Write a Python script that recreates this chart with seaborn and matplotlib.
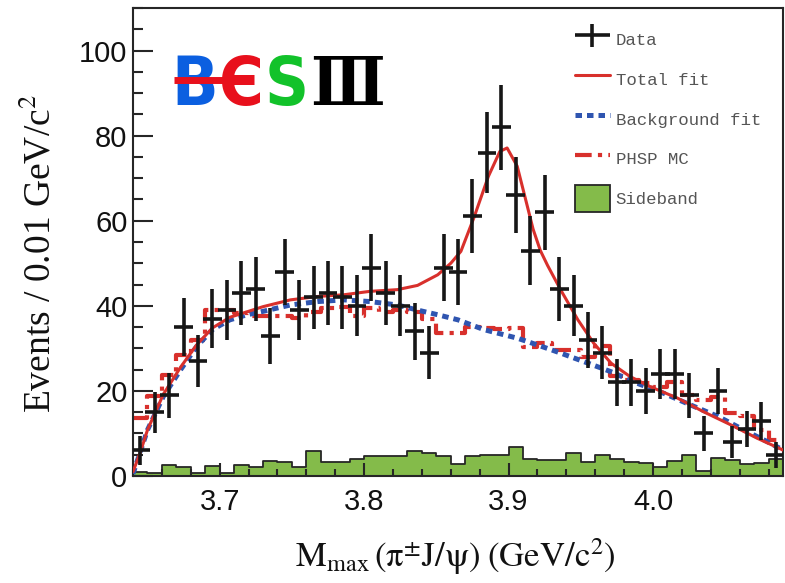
import numpy as np
import pandas as pd
import matplotlib
matplotlib.use("Agg")
import matplotlib.pyplot as plt
import seaborn as sns
from matplotlib.lines import Line2D
from matplotlib.patches import Patch
from matplotlib.ticker import MultipleLocator
from matplotlib.transforms import IdentityTransform
from matplotlib.container import ErrorbarContainer
from matplotlib.legend_handler import HandlerErrorbar
from matplotlib import font_manager as fm

# ---------------- data ----------------
bin_centers = np.round(3.645 + 0.01 * np.arange(45), 3)
data_counts = [6, 15, 19, 35, 27, 37, 39, 43, 44, 33, 48, 39, 42, 43, 42, 40, 49, 43, 40, 34,
               29, 49, 48, 61, 76, 82, 66, 53, 62, 44, 40, 32, 29, 22, 22, 20, 24, 24, 19, 10,
               20, 8, 11, 13, 5]
data_errors = [3.3, 4.8, 5.3, 6.8, 6.1, 7.0, 7.1, 7.5, 7.5, 6.6, 7.8, 7.1, 7.4, 7.5, 7.4, 7.2,
               7.9, 7.5, 7.2, 6.7, 6.3, 7.9, 7.8, 8.7, 9.6, 10.0, 9.0, 8.2, 8.8, 7.5, 7.2, 6.6,
               6.3, 5.6, 5.6, 5.4, 5.8, 5.8, 5.3, 4.1, 5.4, 3.7, 4.2, 4.5, 3.1]
sideband = [1.0, 0.8, 2.5, 2.0, 0.8, 2.4, 0.8, 2.6, 2.0, 3.5, 3.4, 2.0, 5.9, 3.4, 3.4, 3.9,
            4.7, 4.7, 4.7, 5.9, 5.5, 4.7, 2.9, 4.7, 4.9, 4.9, 6.7, 3.9, 3.7, 3.7, 5.3, 3.4,
            4.9, 3.9, 3.4, 3.1, 2.1, 3.5, 4.9, 1.2, 4.3, 3.7, 2.9, 3.1, 3.9]
phsp_mc = [13.6, 18.7, 23.8, 28.5, 32.0, 39.0, 39.0, 38.3, 37.5, 37.5, 37.5, 37.1, 38.5, 39.5,
           39.8, 37.5, 39.5, 38.5, 39.0, 38.5, 37.0, 33.6, 33.6, 35.1, 34.7, 34.5, 34.7, 30.4,
           31.2, 29.6, 29.6, 28.0, 30.5, 23.4, 22.6, 21.8, 21.0, 22.0, 19.1, 17.9, 18.6, 14.8,
           14.0, 10.8, 8.5]

total_x = [3.640, 3.645, 3.650, 3.661, 3.673, 3.684, 3.695, 3.707, 3.719, 3.730, 3.749,
           3.768, 3.786, 3.804, 3.823, 3.837, 3.851, 3.860, 3.867, 3.876, 3.886, 3.894,
           3.899, 3.906, 3.913, 3.917, 3.922, 3.927, 3.936, 3.948, 3.959, 3.971, 3.984,
           3.998, 4.017, 4.035, 4.054, 4.072, 4.090]
total_y = [1.0, 5.5, 10.8, 19.2, 25.6, 30.8, 34.8, 37.3, 38.6, 39.8, 41.4, 42.2, 42.6, 43.4,
           43.8, 44.8, 47.3, 50.0, 52.8, 60.7, 70.4, 76.3, 77.1, 72.8, 63.4, 58.0, 53.0, 49.5,
           43.8, 36.7, 31.2, 26.5, 23.4, 21.0, 18.3, 15.1, 12.0, 8.9, 6.1]

bkg_x = [3.640, 3.650, 3.661, 3.673, 3.684, 3.695, 3.707, 3.719, 3.730, 3.749, 3.768, 3.786,
         3.804, 3.823, 3.837, 3.851, 3.865, 3.883, 3.906, 3.920, 3.936, 3.952, 3.971, 3.989,
         4.007, 4.026, 4.045, 4.063, 4.079, 4.090]
bkg_y = [0.5, 10.8, 18.7, 25.0, 30.4, 34.4, 36.7, 37.9, 38.7, 40.2, 41.0, 41.4, 41.0, 40.2,
         39.0, 37.9, 36.7, 34.4, 32.4, 30.8, 28.9, 26.9, 24.5, 21.8, 19.5, 16.7, 14.0, 10.8,
         8.1, 6.1]

x_ticks = [3.7, 3.8, 3.9, 4.0]
x_tick_labels = ["3.7", "3.8", "3.9", "4.0"]
y_ticks = [0, 20, 40, 60, 80, 100]
legend_labels = ["Data", "Total fit", "Background fit", "PHSP MC", "Sideband"]

# ---------------- style ----------------
RED = "#d8302c"
BLUE = "#2f55b0"
GREEN = "#84bb4a"
DARK = "#262626"

sns.set_theme(style="ticks")
plt.rcParams["font.family"] = ["Liberation Sans", "DejaVu Sans"]
plt.rcParams["mathtext.fontset"] = "stix"

W, H = 785, 583
fig = plt.figure(figsize=(W / 100, H / 100), dpi=100)
ax = fig.add_axes([133 / W, 107 / H, 650 / W, 468 / H])

edges = [round(float(c) - 0.005, 3) for c in bin_centers] + [round(float(bin_centers[-1]) + 0.005, 3)]
df = pd.DataFrame({"x": bin_centers, "sb": sideband, "phsp": phsp_mc})

sns.histplot(data=df, x="x", weights="sb", bins=edges, element="step", fill=True,
             color=GREEN, alpha=1.0, edgecolor=DARK, linewidth=1.3, ax=ax, zorder=1)

sns.histplot(data=df, x="x", weights="phsp", bins=edges, element="step", fill=False,
             color=RED, linewidth=3.0, linestyle=(0, (4, 1.5, 1, 1.5)), ax=ax, zorder=2)

sns.lineplot(x=bkg_x, y=bkg_y, color=BLUE, linewidth=3.6, linestyle=(0, (1.3, 1.0)),
             estimator=None, sort=False, ax=ax, zorder=3)
sns.lineplot(x=total_x, y=total_y, color=RED, linewidth=2.2, estimator=None, sort=False,
             ax=ax, zorder=4)

data_h = ax.errorbar(bin_centers, data_counts, yerr=data_errors, xerr=0.0065, fmt="none",
                     ecolor="#161616", elinewidth=2.6, capsize=0, zorder=5)

ax.set_xlim(3.64, 4.09)
ax.set_ylim(0, 110)
ax.set_xticks(x_ticks)
ax.set_xticklabels(x_tick_labels)
ax.set_yticks(y_ticks)
ax.xaxis.set_minor_locator(MultipleLocator(0.02))
ax.yaxis.set_minor_locator(MultipleLocator(5))
ax.tick_params(which="both", direction="in", top=False, right=False, color=DARK,
               width=1.5, labelsize=21, labelcolor="#111111")
ax.tick_params(axis="x", which="major", length=9.5, pad=9)
ax.tick_params(axis="x", which="minor", length=5)
ax.tick_params(axis="y", which="major", length=14.5, pad=4)
ax.tick_params(axis="y", which="minor", length=7)
ax.set_axisbelow(False)
for sp in ax.spines.values():
    sp.set_linewidth(1.5)
    sp.set_color(DARK)
    sp.set_visible(True)

serif = ["Liberation Serif", "DejaVu Serif"]
ax.set_ylabel("Events / 0.01 GeV/c$^{2}$", fontsize=27, family=serif, color="#111111")
ax.yaxis.set_label_coords(-0.115, 0.476)
ax.set_xlabel(r"$\mathrm{M_{max}\,(π^{±}J/ψ)\;(GeV/c^{2})}$", fontsize=25, color="#111111")
ax.xaxis.set_label_coords(0.496, -0.128)

handles = [data_h,
           Line2D([], [], color=RED, linewidth=2.2),
           Line2D([], [], color=BLUE, linewidth=3.6, linestyle=(0, (1.3, 1.0))),
           Line2D([], [], color=RED, linewidth=3.0, linestyle=(0, (4, 1.5, 1, 1.5))),
           Patch(facecolor=GREEN, edgecolor=DARK, linewidth=1.3)]
leg = ax.legend(handles, legend_labels, loc="upper left", bbox_to_anchor=(0.68, 0.962),
                frameon=False, prop={"family": ["Liberation Mono", "DejaVu Sans Mono"], "size": 12.5},
                handlelength=2.0, handleheight=2.08, handletextpad=0.35, labelspacing=0.69,
                borderpad=0, borderaxespad=0,
                handler_map={ErrorbarContainer: HandlerErrorbar(xerr_size=1.0, yerr_size=0.65)})
for t in leg.get_texts():
    t.set_color("#555555")

# ---------------- BESIII logo ----------------
def available(name):
    try:
        fm.findfont(fm.FontProperties(family=name), fallback_to_default=False)
        return True
    except Exception:
        return False

cands = ["DejaVu Sans Condensed", "Liberation Sans Narrow", "Noto Sans ExtraCondensed",
         "Noto Sans Condensed", "DejaVu Sans"]
logo_font = next(c for c in cands if available(c))
logo_letters = ["B", "Є", "S", "Ⅲ"]
logo_colors = ["#0b5fe0", "#e8101c", "#12c22a", "#000000"]
logo_fams = [[logo_font, "DejaVu Sans"], [logo_font, "DejaVu Sans"],
             [logo_font, "DejaVu Sans"], ["DejaVu Serif", "DejaVu Sans"]]
size = 100.0
fig.canvas.draw()
renderer = fig.canvas.get_renderer()
texts = []
for s, c, fam in zip(logo_letters, logo_colors, logo_fams):
    t = fig.text(0, 0, s, color=c, fontsize=size, fontweight="bold", fontstretch="condensed",
                 family=fam, transform=IdentityTransform(), ha="left", va="baseline",
                 zorder=10)
    texts.append(t)
widths = [t.get_window_extent(renderer).width for t in texts]
cap_px = 0.73 * size * 100 / 72
scale = min(74.0 / cap_px, 212.0 / (sum(widths) + 3))
cap = cap_px * scale
baseline = 80 + cap / 2          # pixel row from the top
xpos = 171.0
starts = []
for t, w in zip(texts, widths):
    t.set_fontsize(size * scale)
    t.set_position((xpos, H - baseline))
    starts.append(xpos)
    xpos += w * scale + 1
fig.add_artist(Line2D([starts[0] + 3, starts[1] + widths[1] * scale * 0.5],
                      [H - baseline + cap * 0.5] * 2, color="#e8101c",
                      linewidth=5, solid_capstyle="butt",
                      transform=IdentityTransform(), zorder=11))

fig.savefig("out.png", dpi=100)
